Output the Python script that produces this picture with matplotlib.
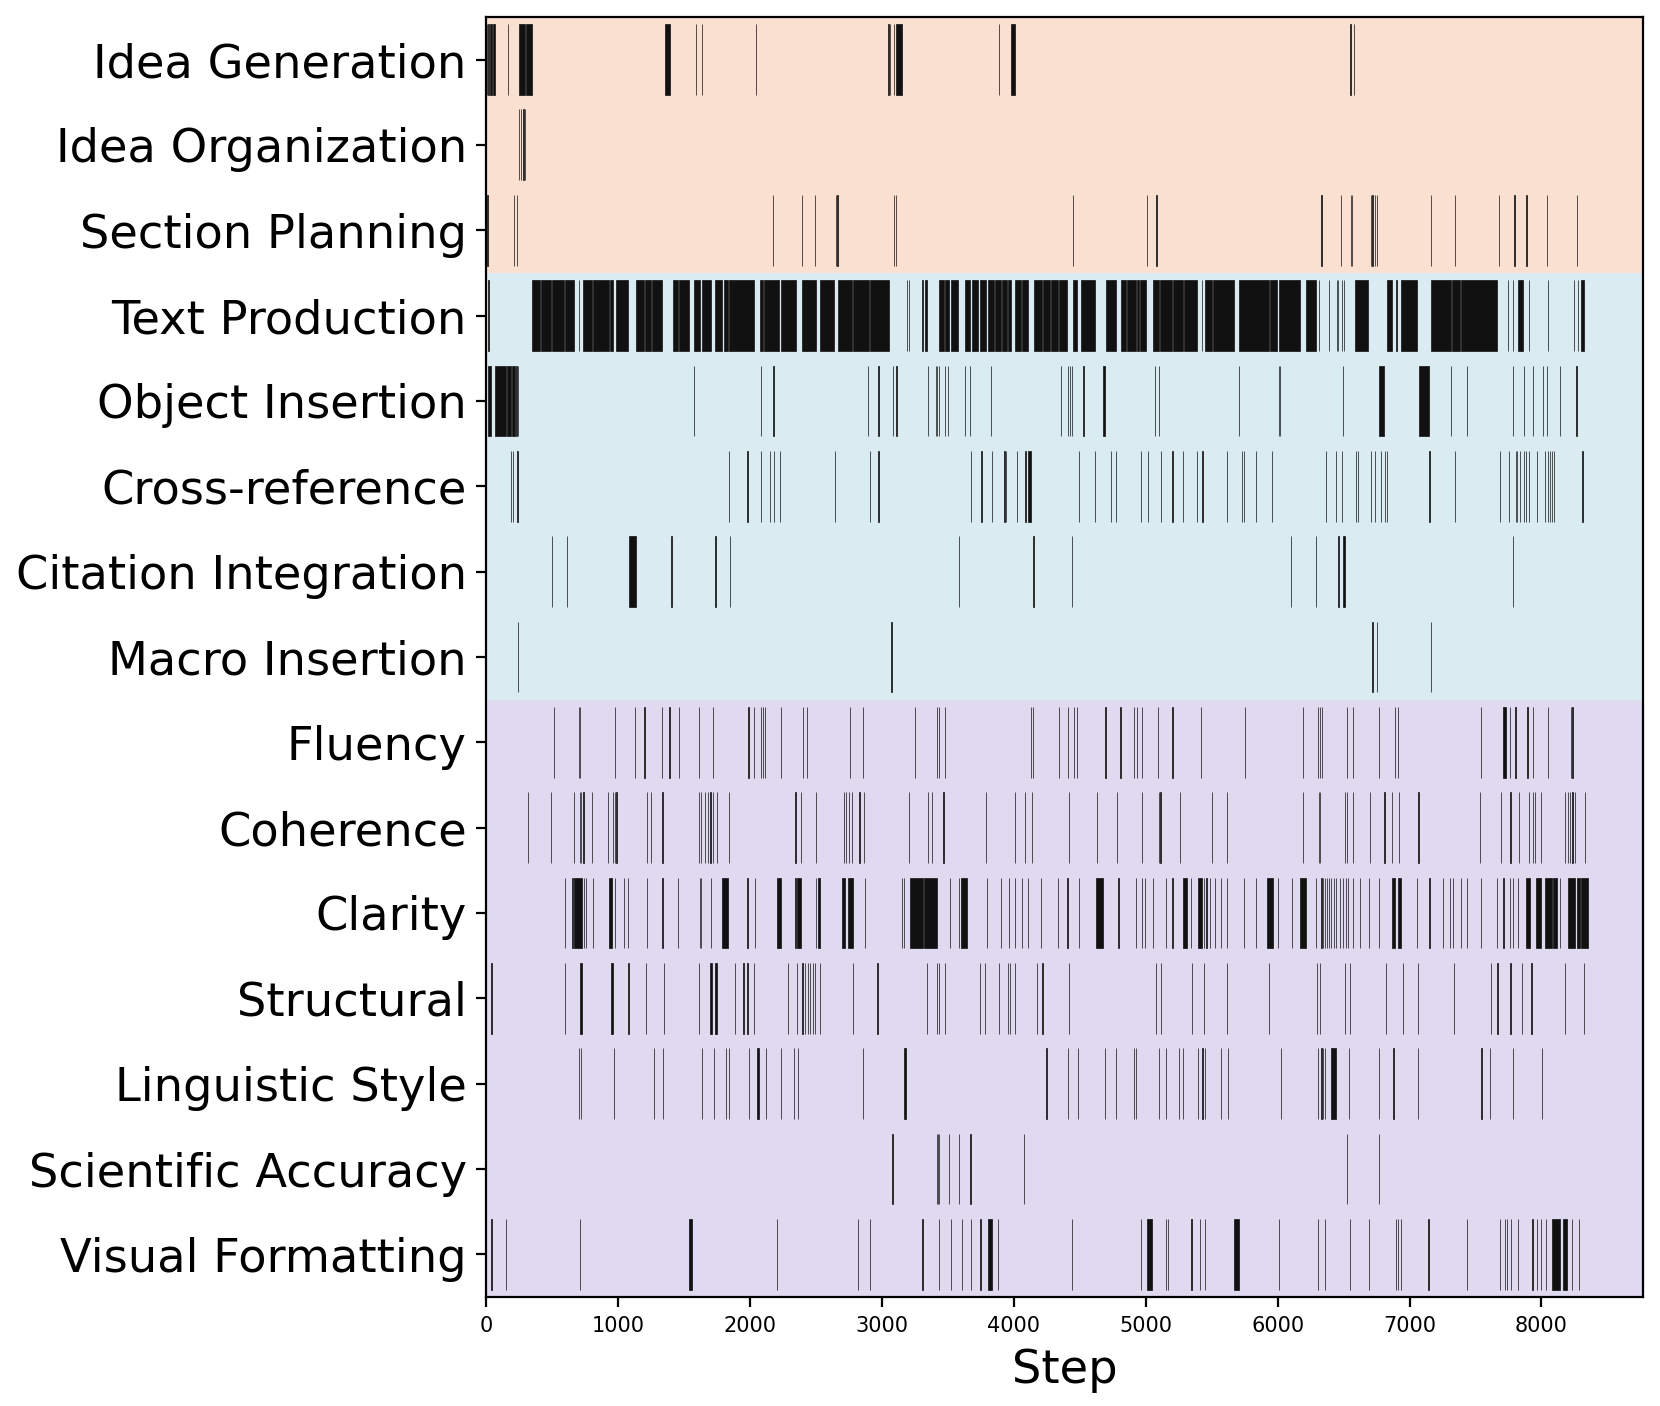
import matplotlib
matplotlib.use("Agg")
import matplotlib.pyplot as plt

categories = [
    "Idea Generation", "Idea Organization", "Section Planning",
    "Text Production", "Object Insertion", "Cross-reference",
    "Citation Integration", "Macro Insertion",
    "Fluency", "Coherence", "Clarity", "Structural",
    "Linguistic Style", "Scientific Accuracy", "Visual Formatting",
]

# Steps at which each action occurs; tuples are (first, last) steps of a dense run.
idea_generation = [(5, 8), (15, 18), (30, 45), (52, 68), 163, (250, 292), (300, 345),
                   (1352, 1390), 1588, 1636, 2046, 3049, 3062, 3088, (3110, 3155), 3886,
                   (3982, 4008), 6552, 6579]
idea_organization = [251, 264, 282, 295]
section_planning = [9, 210, 232, 2173, 2391, 2490, 2649, 2663, 3094, 3104, 4451, 5006,
                    5081, 6332, 6477, 6557, 6566, 6705, 6719, 6740, 6754, 7161, 7341,
                    7677, 7795, 7886, 8042, 8270]
text_production = [17, (344, 410), (418, 490), (498, 590), (598, 668), 700, (737, 802),
                   (810, 930), (936, 958), (987, 1075), (1136, 1196), (1204, 1250),
                   (1256, 1333), (1413, 1450), (1462, 1533), (1577, 1622), (1638, 1700),
                   (1732, 1790), (1800, 1830), (1840, 2030), (2072, 2100), (2108, 2222),
                   (2232, 2344), (2397, 2420), (2428, 2503), (2529, 2636), (2670, 2770),
                   (2778, 2900), (2908, 3051), 3190, 3208, 3307, (3328, 3341),
                   (3434, 3470), (3480, 3509), (3522, 3572), (3628, 3670), (3680, 3730),
                   (3740, 3785), (3807, 3850), (3860, 3900), (3910, 3950), (3958, 3975),
                   (4008, 4050), (4060, 4104), (4155, 4212), (4222, 4270), (4280, 4335),
                   (4345, 4400), (4445, 4480), (4512, 4614), (4700, 4773), (4810, 4850),
                   (4860, 4925), (4935, 4950), (4960, 4998), (5054, 5098), (5108, 5198),
                   (5206, 5278), (5288, 5390), 5425, (5452, 5500), (5510, 5666),
                   (5709, 5930), (5940, 5998), (6008, 6166), (6217, 6292), 6316, 6386,
                   6447, 6458, 6485, 6504, (6590, 6687), (6826, 6866), 6901,
                   (6936, 7054), (7164, 7312), (7322, 7380), (7390, 7663), 7747, 7782,
                   (7819, 7862), 7902, 8050, 8245, 8280, (8300, 8325)]
object_insertion = [(15, 38), (64, 150), (157, 190), (198, 215), 229, 243, 1572, 2086,
                    2178, 2897, 2974, 3083, 3110, 3350, 3408, 3418, 3429, 3475, 3501,
                    3628, 3668, 3828, 4357, 4413, 4424, 4440, 4528, (4673, 4687), 5068,
                    5103, 5709, 6007, 6018, 6496, (6772, 6807), (7070, 7143), 7314, 7438,
                    7787, 7870, 7937, 8010, 8042, 8140, 8265]
cross_reference = [189, 202, 237, 1838, 1980, 2082, 2149, 2184, 2224, 2645, 2908, 2974,
                   3673, 3754, 3834, (3924, 3930), 3941, 4021, 4088, (4110, 4131), 4491,
                   4614, 4738, 4775, 4961, 5014, 5114, 5202, 5283, 5387, 5430, 5618,
                   5731, 5747, 5835, 5954, 6364, 6439, 6490, 6593, 6606, 6705, 6735,
                   6780, 6813, 6826, 7151, 7341, 7688, 7755, 7806, 7814, 7835, 7867,
                   7880, 7902, 7969, 8028, 8050, 8063, 8077, 8095, (8305, 8312)]
citation_integration = [498, 610, (1080, 1138), (1402, 1408), 1738, 1847, 3584,
                        (4145, 4155), 4443, 6101, 6289, 6461, (6498, 6512), 7787]
macro_insertion = [243, 3072, (6718, 6724), 6753, 7159]
fluency = [516, 703, 708, 974, 1125, 1200, 1333, 1389, 1458, 1612, 1718, 1988, 2030,
           2083, 2095, 2110, 2237, 2399, 2432, 2756, 2857, 3249, 3416, 3434, 3475, 4128,
           4142, 4341, 4413, 4459, 4480, 4695, 4808, 4910, 4936, 4969, 5095, 5202, 5417,
           5755, 6195, 6305, 6324, 6337, 6528, 6574, 6767, 6888, 6915, 7540,
           (7706, 7728), 7760, 7803, 7894, 7934, 8047, 8225, 8235]
coherence = [314, 490, 668, 708, 721, 737, 801, 926, 961, 974, 987, 1216, 1250, 1336,
             1610, 1626, 1658, 1679, 1700, 1718, 1746, 1843, 2344, 2386, 2503, 2711,
             2729, 2750, 2775, 2830, 2862, 3208, 3347, 3381, 3466, 3788, 4010, 4083,
             4137, 4421, 4628, 4781, 4969, 5097, 5111, 5258, 5500, 5613, 6193, 6311,
             6324, 6512, 6525, 6571, 6702, 6810, 6869, 6920, 7067, 7537, 7696,
             (7765, 7770), 7827, 7902, 7934, 7951, 7999, 8175, 8200, 8215, 8235, 8255,
             8330]
clarity = [596, 654, (668, 727), 742, 753, 807, (934, 953), 979, 1041, 1075, 1216, 1336,
           1455, 1617, 1631, 1705, (1790, 1830), 1980, 2038, (2203, 2232), 2344,
           (2358, 2383), 2503, (2516, 2530), (2700, 2716), (2743, 2778), 2870, 3155,
           3169, (3213, 3309), (3320, 3413), 3514, 3586, (3602, 3642), 3798, 3900, 3962,
           4010, 4064, 4110, 4206, 4335, (4400, 4410), 4496, (4620, 4673), (4790, 4800),
           4923, 4969, 4993, 5057, 5156, 5202, (5285, 5309), 5344, (5393, 5425), 5444,
           5460, 5487, 5527, 5572, 5613, 5747, 5833, (5921, 5962), 6005, 6107,
           (6166, 6217), 6292, 6332, 6345, 6359, 6372, 6386, 6405, 6426, 6439, 6472,
           6498, 6517, 6536, 6568, 6627, 6692, 6767, (6869, 6888), (6915, 6933), 7057,
           7151, 7255, 7304, 7331, 7390, 7432, 7540, 7661, 7712, 7760, 7787, 7819,
           (7886, 7913), (7961, 7996), (8028, 8082), (8090, 8115), 8140, (8205, 8250),
           (8270, 8290), (8300, 8350)]
structural = [40, 594, (713, 727), (947, 961), 1078, 1211, 1346, 1610, (1700, 1713),
              (1732, 1746), 1884, 1950, 1980, 2030, 2285, 2357, 2397, 2418, 2440, 2456,
              2477, 2495, 2530, 2779, 2966, 3341, 3416, 3434, 3475, 3746, 3780, 3886,
              3954, 3970, 4008, 4174, 4217, 4421, 5076, 5116, 5352, 5444, 5613, 5935,
              6297, 6324, 6512, 6550, 6818, 6947, 7062, 7336, 7620, 7666, 7765, 7851,
              (7918, 7924), 8180, 8320]
linguistic_style = [703, 721, 969, 1270, 1343, 1634, 1727, 1817, 1838, 1990,
                    (2056, 2068), 2118, 2232, 2336, 2365, 2859, (3168, 3182), 4247, 4408,
                    4485, 4689, 4773, 4910, 4928, 5103, 5156, 5250, 5285, 5393, 5430,
                    5452, 5572, 5621, 6023, 6305, 6332, 6345, 6359, (6405, 6445), 6539,
                    6767, (6874, 6882), 7062, 7545, 7612, 7787, 8002]
scientific_accuracy = [3080, 3416, 3425, 3434, 3509, 3586, 3671, 4077, 6528, 6767]
visual_formatting = [40, 149, 711, (1540, 1560), 2207, 2816, 2911, 3307, 3432, 3524, 3605,
                     3673, 3747, (3808, 3832), 3882, 4441, 4964, (5012, 5050), 5155, 5171,
                     5347, 5411, 5449, (5672, 5704), 6011, 6304, 6358, 6550, 6694, 6895,
                     6914, 6933, 7143, 7437, 7686, 7724, 7740, 7772, 7820, 7932, 7964,
                     7996, 8037, (8082, 8139), (8161, 8193), 8228, 8283]

events = [idea_generation, idea_organization, section_planning, text_production,
          object_insertion, cross_reference, citation_integration, macro_insertion,
          fluency, coherence, clarity, structural, linguistic_style,
          scientific_accuracy, visual_formatting]

group_sizes = [3, 5, 7]
group_colors = ["#F9E0D0", "#DAEBF1", "#DFDAF0"]
row_colors = [c for n, c in zip(group_sizes, group_colors) for _ in range(n)]

fig, ax = plt.subplots(figsize=(8.3, 7.03), dpi=200)
fig.subplots_adjust(left=0.2929, right=0.9896, top=0.988, bottom=0.0775)

for i, ev in enumerate(events):
    ax.axhspan(i - 0.5, i + 0.5, color=row_colors[i], lw=0, zorder=0)
    segs = []
    for e in ev:
        if isinstance(e, tuple):
            s, t = e
        else:
            s = t = e
        segs.append((s, t - s + 1))
    ax.broken_barh(segs, (i - 0.415, 0.83), facecolors="#111111",
                   edgecolors="#111111", linewidth=0.25, zorder=2)

ax.set_ylim(len(categories) - 0.5, -0.5)
ax.set_xlim(0, 8768)
ax.set_yticks(range(len(categories)))
ax.set_yticklabels(categories, fontsize=16.7)
ax.tick_params(axis="x", labelsize=7.5)
ax.set_xlabel("Step", fontsize=16.7)

fig.savefig("out.png", dpi=200)
